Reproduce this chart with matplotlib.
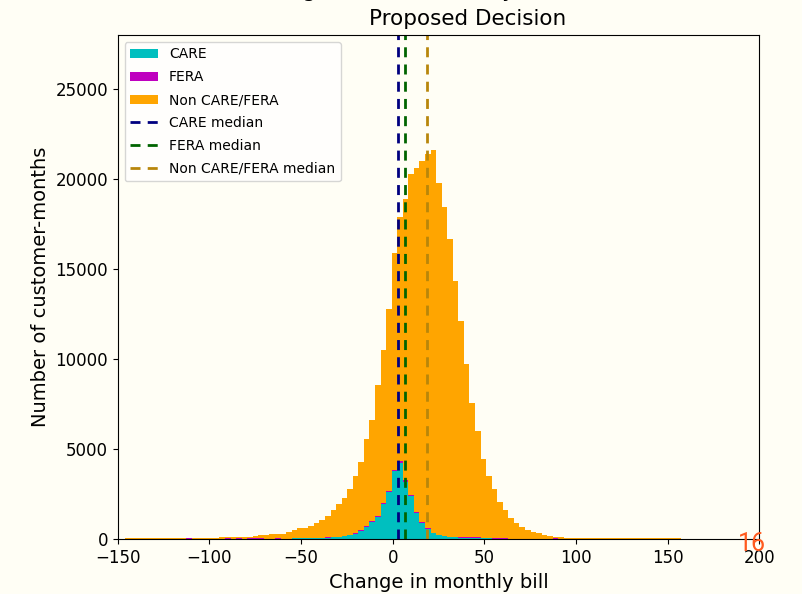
import numpy as np
import matplotlib.pyplot as plt

# histogram bins for the change in monthly bill
bin_lo, bin_hi, n_bins = -146, 157, 100

# customer-months per bin
care = [0] * 26 + [
    30, 0, 35, 40, 45, 50, 55, 60, 65, 75,
    85, 100, 120, 160, 215, 310, 450, 680, 960, 1250,
    1960, 2640, 3800, 4250, 3200, 2400, 1480, 930, 590, 330,
    215, 165, 110, 100, 95, 95, 90, 90, 85, 80,
] + [0] * 34

fera = [0] * 11 + [50] + [0] * 6 + [50, 0, 50, 0, 55, 55, 55, 0, 0, 50] + [0] * 8 + [
    15, 20, 25, 30, 35, 40, 50, 55, 60, 60,
    65, 65, 70, 70, 65, 60, 55, 50, 45, 40,
    35, 25, 20, 10, 10, 10, 10, 10, 10, 10,
    60, 60, 60,
] + [0] * 8 + [50] + [0] * 22

# top of the stack = all customers
all_customers = [
    60, 60, 55, 60, 65, 60, 60, 65, 60, 60, 70,
    70, 70, 75, 80, 80, 85,
    150, 150, 100, 150, 150, 150,
    210, 215, 220, 280, 285, 290,
    410, 500, 610, 620, 725, 910, 1095, 1320, 1615, 1985, 2320, 2785,
    3510, 4305, 5550, 6630, 8540, 10520, 12810, 15870, 17910, 18900,
    20270, 20640, 21010, 21400, 21620, 19800, 18450, 16700, 14330, 12100,
    9725, 7555, 6030, 4436, 3508, 2800, 2060, 1615, 1207, 928,
    686, 520, 408, 334, 260, 205, 150, 111, 93,
    80, 75, 75, 70, 70, 70, 65, 65, 65, 60, 60, 60, 60, 60, 55, 55, 55, 55, 50, 50,
]
non_care_fera = np.array(all_customers) - np.array(care) - np.array(fera)

care_median = 3.1
fera_median = 6.7
non_median = 18.7

bg = '#fffef5'

edges = np.linspace(bin_lo, bin_hi, n_bins + 1)
centers = (edges[:-1] + edges[1:]) / 2

fig = plt.figure(figsize=(8.02, 5.94), dpi=100, facecolor=bg)
ax = fig.add_axes([0.1468, 0.0921, 0.8, 0.849])
ax.set_facecolor(bg)

ax.hist([centers, centers, centers], bins=edges,
        weights=[care, fera, non_care_fera], stacked=True,
        color=['c', 'm', 'orange'],
        label=['CARE', 'FERA', 'Non CARE/FERA'])

dash = (0, (3.6, 2.6))
ax.axvline(care_median, color='navy', ls=dash, lw=2, label='CARE median')
ax.axvline(fera_median, color='darkgreen', ls=dash, lw=2, label='FERA median')
ax.axvline(non_median, color='darkgoldenrod', ls=dash, lw=2,
           label='Non CARE/FERA median')

ax.set_xlim(-150, 200)
ax.set_ylim(0, 28000)
ax.set_xlabel('Change in monthly bill', fontsize=14)
ax.set_ylabel('Number of customer-months', fontsize=14)
ax.tick_params(labelsize=12)
# first title line sits above the top edge, as in the cropped original
ax.set_title('Change in Electric Bill by Customer Class\nProposed Decision',
             fontsize=15.5, pad=7, x=0.546, linespacing=1.52)

order = ['CARE', 'FERA', 'Non CARE/FERA', 'CARE median', 'FERA median',
         'Non CARE/FERA median']
h, l = ax.get_legend_handles_labels()
lookup = dict(zip(l, h))
ax.legend([lookup[k] for k in order], order, loc='upper left', fontsize=10,
          labelspacing=0.64)

fig.text(752 / 802, 1 - 544 / 594, '16', ha='center', va='center',
         fontsize=18, color='#ff5a1e', family=['Roboto', 'DejaVu Sans'])

fig.savefig('out.png', dpi=100, facecolor=bg)
